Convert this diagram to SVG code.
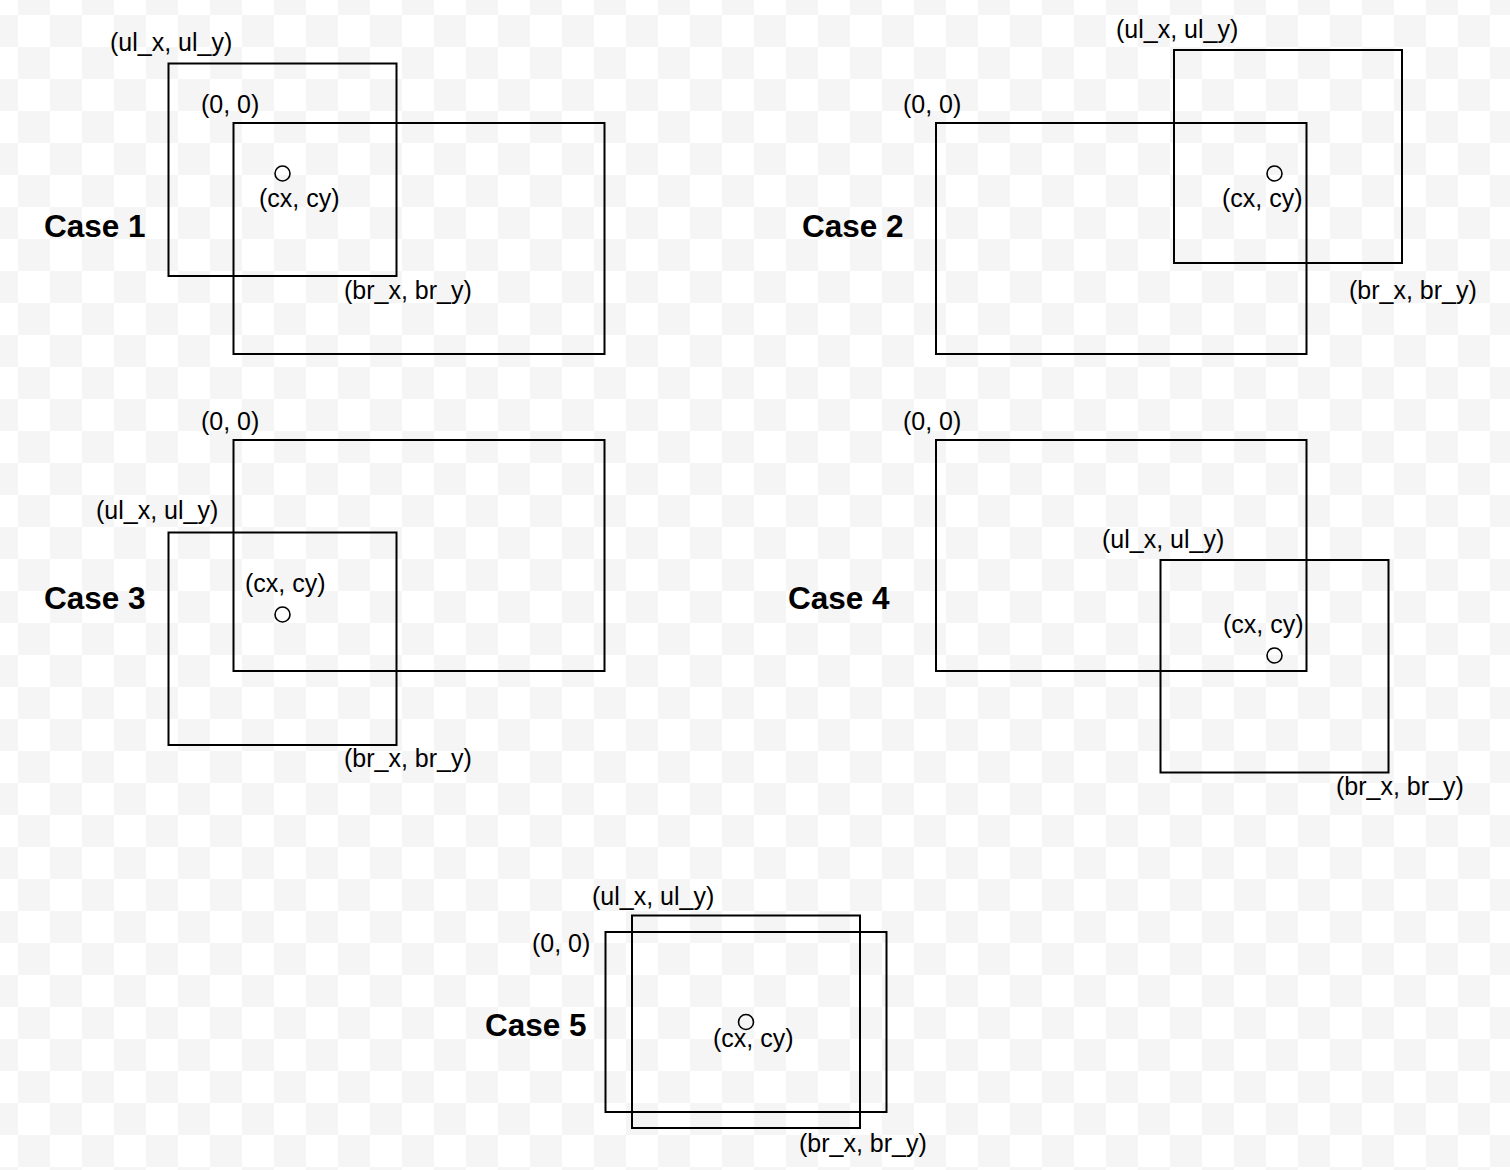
<svg xmlns="http://www.w3.org/2000/svg" width="1510" height="1170" viewBox="0 0 1510 1170">
  <style>
    .box { fill: none; stroke: #000; stroke-width: 2; }
    .pt { fill: none; stroke: #000; stroke-width: 1.6; }
    .lbl { font-family: "Liberation Sans", Arial, sans-serif; font-size: 25px; fill: #000; }
    .case { font-family: "Liberation Sans", Arial, sans-serif; font-size: 31.5px; font-weight: bold; fill: #000; }
  </style>
  <defs>
    <pattern id="checker" x="-14" y="-17" width="64" height="64" patternUnits="userSpaceOnUse">
      <rect x="0" y="0" width="64" height="64" fill="#ffffff"/>
      <rect x="32" y="0" width="32" height="32" fill="#f5f5f5"/>
      <rect x="0" y="32" width="32" height="32" fill="#f5f5f5"/>
    </pattern>
  </defs>
  <rect id="background" x="0" y="0" width="1510" height="1170" fill="url(#checker)"/>

  <g id="case1">
    <rect class="box" x="168.5" y="63.5" width="228" height="212.5"/>
    <rect class="box" x="233.5" y="123" width="371" height="231"/>
    <circle class="pt" cx="282.5" cy="173.5" r="7.5"/>
    <text class="case" x="44" y="237">Case 1</text>
    <text class="lbl" x="110" y="51">(ul_x, ul_y)</text>
    <text class="lbl" x="201" y="113">(0, 0)</text>
    <text class="lbl" x="259" y="207">(cx, cy)</text>
    <text class="lbl" x="344" y="299">(br_x, br_y)</text>
  </g>

  <g id="case2">
    <rect class="box" x="936" y="123" width="370.5" height="231"/>
    <rect class="box" x="1174" y="50" width="228" height="213"/>
    <circle class="pt" cx="1274.5" cy="173.5" r="7.5"/>
    <text class="case" x="802" y="237">Case 2</text>
    <text class="lbl" x="1116" y="38">(ul_x, ul_y)</text>
    <text class="lbl" x="903" y="113">(0, 0)</text>
    <text class="lbl" x="1222" y="207">(cx, cy)</text>
    <text class="lbl" x="1349" y="299">(br_x, br_y)</text>
  </g>

  <g id="case3">
    <rect class="box" x="233.5" y="440" width="371" height="231"/>
    <rect class="box" x="168.5" y="532.5" width="228" height="212.5"/>
    <circle class="pt" cx="282.5" cy="614.5" r="7.5"/>
    <text class="case" x="44" y="609">Case 3</text>
    <text class="lbl" x="96" y="519">(ul_x, ul_y)</text>
    <text class="lbl" x="201" y="430">(0, 0)</text>
    <text class="lbl" x="245" y="592">(cx, cy)</text>
    <text class="lbl" x="344" y="767">(br_x, br_y)</text>
  </g>

  <g id="case4">
    <rect class="box" x="936" y="440" width="370.5" height="231"/>
    <rect class="box" x="1160.5" y="560" width="228" height="212.5"/>
    <circle class="pt" cx="1274.5" cy="655.5" r="7.5"/>
    <text class="case" x="788" y="609">Case 4</text>
    <text class="lbl" x="1102" y="548">(ul_x, ul_y)</text>
    <text class="lbl" x="903" y="430">(0, 0)</text>
    <text class="lbl" x="1223" y="633">(cx, cy)</text>
    <text class="lbl" x="1336" y="795">(br_x, br_y)</text>
  </g>

  <g id="case5">
    <rect class="box" x="605.5" y="932" width="281" height="180"/>
    <rect class="box" x="632" y="915.5" width="228" height="212.5"/>
    <circle class="pt" cx="746" cy="1022" r="7.5"/>
    <text class="case" x="485" y="1036">Case 5</text>
    <text class="lbl" x="592" y="905">(ul_x, ul_y)</text>
    <text class="lbl" x="532" y="952">(0, 0)</text>
    <text class="lbl" x="713" y="1047">(cx, cy)</text>
    <text class="lbl" x="799" y="1152">(br_x, br_y)</text>
  </g>
</svg>
